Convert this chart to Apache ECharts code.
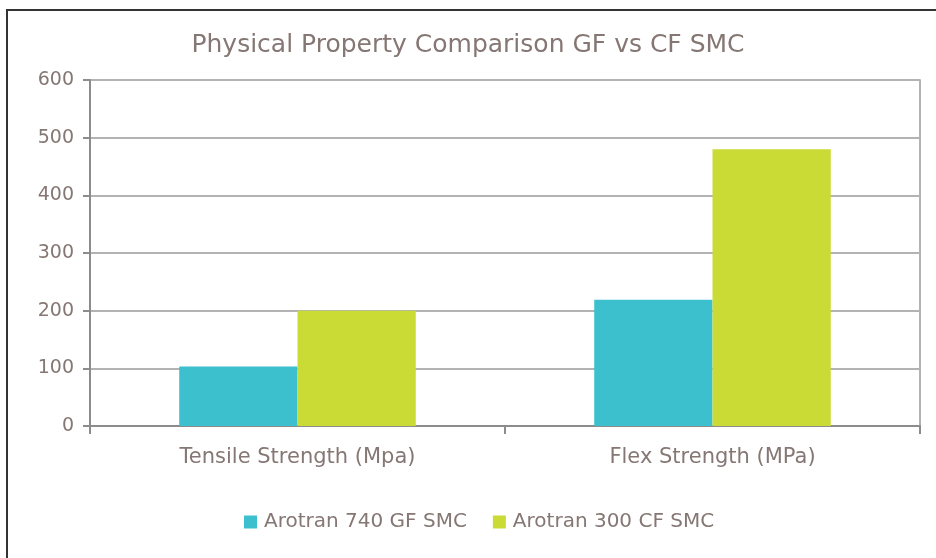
<!DOCTYPE html>
<html>
<head>
<meta charset="utf-8">
<script src="https://cdn.jsdelivr.net/npm/echarts@6/dist/echarts.min.js"></script>
<style>
  html, body { margin: 0; padding: 0; background: #fff; }
  #frame { position: absolute; left: 6px; top: 9px; width: 930px; height: 549px;
           border-top: 2px solid #333; border-left: 2px solid #333; }
  #chart { position: absolute; left: 0; top: 0; width: 936px; height: 558px; }
</style>
</head>
<body>
<div id="frame"></div>
<div id="chart"></div>
<script>
const categories = ["Tensile Strength (Mpa)", "Flex Strength (MPa)"];
const gfValues = [103, 219];
const cfValues = [200, 480];
const seriesNames = ["Arotran 740 GF SMC", "Arotran 300 CF SMC"];

const textColor = "#857773";
const font = "DejaVu Sans";

const chart = echarts.init(document.getElementById("chart"));
chart.setOption({
  animation: false,
  title: {
    text: "Physical Property Comparison GF vs CF SMC",
    left: "center", top: 28,
    textStyle: { fontFamily: font, fontSize: 25, fontWeight: "normal", color: textColor }
  },
  legend: {
    bottom: 21, left: 239,
    itemWidth: 13, itemHeight: 13, itemGap: 26,
    icon: "rect",
    textStyle: { fontFamily: font, fontSize: 20, color: textColor, padding: [0, 0, 0, 2] }
  },
  grid: { left: 90, right: 16, top: 80, bottom: 132 },
  xAxis: {
    type: "category",
    data: categories,
    axisLine: { lineStyle: { color: "#8c8c8c", width: 2 } },
    axisTick: { show: true, length: 8, lineStyle: { color: "#8c8c8c", width: 2 } },
    axisLabel: { fontFamily: font, fontSize: 21, color: textColor, margin: 21 }
  },
  yAxis: [{
    type: "value", min: 0, max: 600, interval: 100,
    axisLine: { show: true, lineStyle: { color: "#8c8c8c", width: 2 } },
    axisTick: { show: true, length: 7, lineStyle: { color: "#8c8c8c", width: 2 } },
    axisLabel: { fontFamily: font, fontSize: 19, color: textColor, margin: 16 },
    splitLine: { lineStyle: { color: "#b3b3b3", width: 2 } }
  }, {
    type: "value", min: 0, max: 600, interval: 100, position: "right",
    axisLine: { show: true, lineStyle: { color: "#b3b3b3", width: 2 } },
    axisTick: { show: false }, axisLabel: { show: false }, splitLine: { show: false }
  }],
  series: [{
    name: seriesNames[0], type: "bar", data: gfValues,
    barGap: "0%", barCategoryGap: "43%",
    itemStyle: { color: "#3cc0cd" }
  }, {
    name: seriesNames[1], type: "bar", data: cfValues,
    barGap: "0%", barCategoryGap: "43%",
    itemStyle: { color: "#cbdb36" }
  }]
});
</script>
</body>
</html>
